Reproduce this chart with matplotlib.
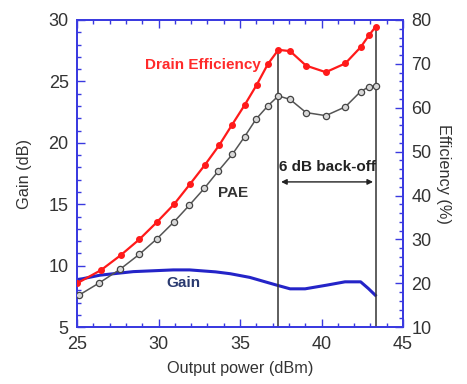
import matplotlib
matplotlib.use("Agg")
import matplotlib.pyplot as plt
from matplotlib.ticker import MultipleLocator

plt.rcParams['font.family'] = ['Liberation Sans', 'DejaVu Sans']

# Drain efficiency (%), right axis
de_x = [25.0, 26.47, 27.68, 28.82, 29.89, 30.95, 31.93, 32.85, 33.71, 34.49, 35.28, 36.02,
        36.7, 37.35, 38.07, 39.05, 40.26, 41.46, 42.4, 42.93, 43.33]
de_y = [20.0, 23.0, 26.4, 30.0, 33.9, 38.0, 42.6, 47.0, 51.4, 56.0, 60.6, 65.2,
        69.9, 73.2, 72.9, 69.6, 68.1, 70.1, 73.8, 76.6, 78.5]

# PAE (%), right axis
pae_x = [25.12, 26.37, 27.64, 28.82, 29.89, 30.95, 31.89, 32.8, 33.67, 34.53, 35.28, 35.98,
         36.7, 37.35, 38.07, 39.05, 40.26, 41.46, 42.4, 42.93, 43.33]
pae_y = [17.3, 20.1, 23.2, 26.6, 30.1, 34.0, 37.8, 41.6, 45.6, 49.4, 53.4, 57.4,
         60.4, 62.7, 61.9, 58.9, 58.2, 60.2, 63.7, 64.8, 65.0]

# Gain (dB), left axis
gain_x = [25.0, 26.4, 28.45, 30.9, 31.9, 33.5, 34.4, 35.6, 37.25, 38.07, 38.99, 40.32,
          41.44, 42.4, 42.87, 43.3]
gain_y = [8.85, 9.23, 9.52, 9.66, 9.66, 9.5, 9.35, 9.05, 8.42, 8.12, 8.12, 8.42,
          8.69, 8.69, 8.15, 7.6]

backoff_x = [37.35, 43.33]
backoff_top = [73.2, 78.5]

spine_blue = '#3a3ae0'

fig = plt.figure(figsize=(4.67, 3.84), dpi=100)
ax = fig.add_axes([0.165, 0.148, 0.698, 0.8])
ax2 = ax.twinx()

ax.set_xlim(25, 45)
ax.set_ylim(5, 30)
ax2.set_ylim(10, 80)

ax.plot(gain_x, gain_y, color='#2424c8', lw=2.2, zorder=3)

ax2.plot(de_x, de_y, color='#ff1a1a', lw=1.6, marker='o', ms=4, mfc='#ff1a1a', mec='#ff1a1a', zorder=4)
ax2.plot(pae_x, pae_y, color='#555555', lw=1.1, marker='o', ms=4.5, mfc='#d8d8d8', mec='#444444', mew=0.9, zorder=4)

for xv, top in zip(backoff_x, backoff_top):
    ax2.plot([xv, xv], [10, top], color='#333333', lw=1.1, zorder=2)

ax2.annotate('', xy=(backoff_x[0], 43.1), xytext=(backoff_x[1], 43.1),
             arrowprops=dict(arrowstyle='<|-|>', color='#222222', lw=1.0, mutation_scale=8))
ax2.text(sum(backoff_x) / 2, 46.5, '6 dB back-off', ha='center', va='center', fontsize=11,
         fontweight='bold', color='#222222')

ax.text(32.75, 26.3, 'Drain Efficiency', ha='center', va='center', fontsize=11,
        fontweight='bold', color='#ff2a2a')
ax.text(34.57, 15.9, 'PAE', ha='center', va='center', fontsize=11, fontweight='bold', color='#333333')
ax.text(31.5, 8.6, 'Gain', ha='center', va='center', fontsize=11, fontweight='bold', color='#2a3a70')

ax.xaxis.set_major_locator(MultipleLocator(5))
ax.xaxis.set_minor_locator(MultipleLocator(1))
ax.yaxis.set_major_locator(MultipleLocator(5))
ax.yaxis.set_minor_locator(MultipleLocator(1))
ax2.yaxis.set_major_locator(MultipleLocator(10))
ax2.yaxis.set_minor_locator(MultipleLocator(2))

ax.tick_params(axis='x', which='both', direction='in', top=True, color=spine_blue, labelsize=13,
               labelcolor='#333333', pad=6)
ax.tick_params(axis='x', which='major', length=6, width=1)
ax.tick_params(axis='x', which='minor', length=3, width=1)
ax.tick_params(axis='y', which='both', direction='in', color=spine_blue, labelsize=13,
               labelcolor='#333333', pad=6)
ax.tick_params(axis='y', which='major', length=6, width=1)
ax.tick_params(axis='y', which='minor', length=3, width=1)
ax2.tick_params(axis='y', which='both', direction='in', color=spine_blue, labelsize=13,
                labelcolor='#333333', pad=6)
ax2.tick_params(axis='y', which='major', length=6, width=1)
ax2.tick_params(axis='y', which='minor', length=3, width=1)

for a in (ax, ax2):
    for s in a.spines.values():
        s.set_color(spine_blue)
        s.set_linewidth(1.3)

ax.set_xlabel('Output power (dBm)', fontsize=11.7, color='#333333', labelpad=6)
ax.set_ylabel('Gain (dB)', fontsize=11.7, color='#333333', labelpad=12)
ax2.set_ylabel('Efficiency (%)', fontsize=11.7, color='#333333', rotation=270, labelpad=14)

fig.savefig('out.png', dpi=100)
